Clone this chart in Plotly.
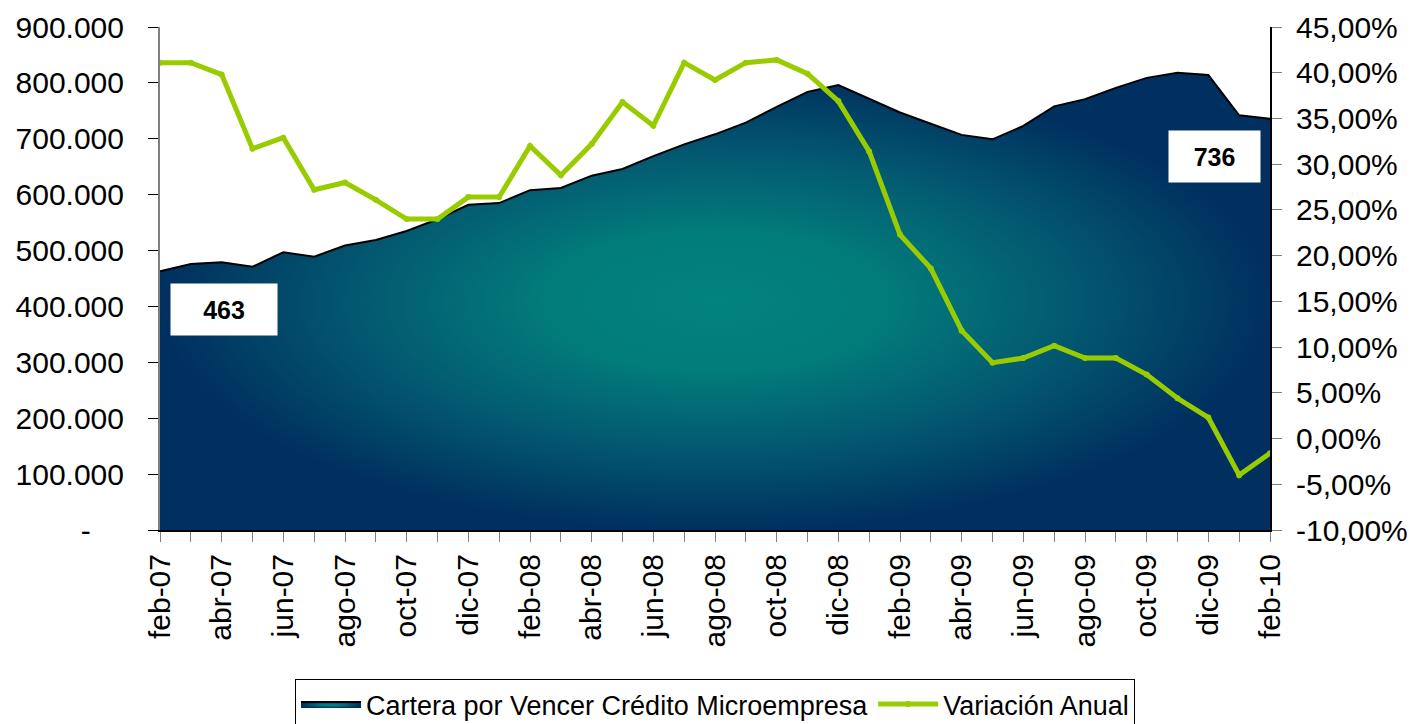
import plotly.graph_objects as go

months = ["feb-07", "mar-07", "abr-07", "may-07", "jun-07", "jul-07", "ago-07", "sep-07",
          "oct-07", "nov-07", "dic-07", "ene-08", "feb-08", "mar-08", "abr-08", "may-08",
          "jun-08", "jul-08", "ago-08", "sep-08", "oct-08", "nov-08", "dic-08", "ene-09",
          "feb-09", "mar-09", "abr-09", "may-09", "jun-09", "jul-09", "ago-09", "sep-09",
          "oct-09", "nov-09", "dic-09", "ene-10", "feb-10"]

cartera = [463000, 476000, 479000, 471000, 497000, 489000, 509000, 519000,
           535000, 556000, 582000, 585000, 608000, 612000, 634000, 646000,
           669000, 690000, 708000, 729000, 757000, 784000, 796000, 771000,
           747000, 727000, 707000, 699000, 723000, 758000, 771000, 791000,
           809000, 818000, 814000, 742000, 736000]

variacion = [0.411, 0.411, 0.398, 0.317, 0.329, 0.272, 0.280, 0.261,
             0.240, 0.240, 0.264, 0.264, 0.320, 0.288, 0.322, 0.368,
             0.342, 0.411, 0.392, 0.411, 0.414, 0.399, 0.369, 0.314,
             0.223, 0.186, 0.118, 0.083, 0.088, 0.1015, 0.088, 0.088,
             0.070, 0.044, 0.023, -0.040, -0.016]

left_ticks = [0, 100000, 200000, 300000, 400000, 500000, 600000, 700000, 800000, 900000]
left_text = ["-\u00a0\u00a0\u00a0\u00a0" if v == 0 else f"{v:,}".replace(",", ".") for v in left_ticks]
right_ticks = [-0.10, -0.05, 0.0, 0.05, 0.10, 0.15, 0.20, 0.25, 0.30, 0.35, 0.40, 0.45]
right_text = [f"{v*100:.2f}%".replace(".", ",") for v in right_ticks]

name_area = "Cartera por Vencer Crédito Microempresa"
name_line = "Variación Anual"

x = list(range(len(months)))
FONT = "Liberation Sans, Arial, sans-serif"
TICK = 30

# page body has an 8px margin: figure drawn 8px smaller so the plot lands where the reference has it
W, H = 1407, 716

fig = go.Figure()
fig.add_trace(go.Scatter(
    x=x, y=cartera, name=name_area, mode="lines",
    line=dict(color="black", width=2),
    fill="tozeroy",
    fillgradient=dict(type="radial",
                      colorscale=[[0, "#02837F"], [0.3, "#027C7B"], [0.65, "#035870"], [1, "#00305F"]]),
    yaxis="y",
))
fig.add_trace(go.Scatter(
    x=x, y=variacion, name=name_line, mode="lines+markers",
    line=dict(color="#99CC00", width=5),
    marker=dict(color="#99CC00", size=6, symbol="circle"),
    yaxis="y2",
))

fig.add_annotation(text=f"<b>{cartera[0]/1000:.0f}</b>", xref="paper", yref="paper",
                   x=(224 - 160) / 1110, y=(530 - 309) / 503, xanchor="center", yanchor="middle",
                   showarrow=False, bgcolor="white", width=106, height=51, borderpad=0,
                   font=dict(family=FONT, size=25, color="black"))
fig.add_annotation(text=f"<b>{cartera[-1]/1000:.0f}</b>", xref="paper", yref="paper",
                   x=(1214 - 160) / 1110, y=(530 - 157) / 503, xanchor="center", yanchor="middle",
                   showarrow=False, bgcolor="white", width=91, height=51, borderpad=0,
                   font=dict(family=FONT, size=25, color="black"))

fig.update_layout(
    width=W, height=H,
    margin=dict(l=152, r=W - 1262, t=19, b=H - 522, autoexpand=False),
    paper_bgcolor="white", plot_bgcolor="white",
    font=dict(family=FONT, size=TICK, color="black"),
    showlegend=True,
    legend=dict(orientation="h", x=0.5, xanchor="center", y=(530 - 679) / 503, yanchor="top",
                bordercolor="black", borderwidth=1, bgcolor="white",
                font=dict(family=FONT, size=27, color="black"), itemwidth=60),
    xaxis=dict(range=[0, 36], tickmode="array", tickvals=x[::2], ticktext=months[::2],
               tickangle=-90, ticks="outside", ticklen=10, tickcolor="#808080",
               showline=True, linecolor="black", linewidth=2, showgrid=False, zeroline=False,
               ticklabelstandoff=0,
               minor=dict(tickmode="linear", tick0=0, dtick=1, ticks="outside", ticklen=10,
                          tickcolor="#808080"),
               tickfont=dict(family=FONT, size=TICK)),
    yaxis=dict(range=[0, 900000], tickmode="array", tickvals=left_ticks, ticktext=left_text,
               ticks="outside", ticklen=10, tickcolor="black", showline=True, linecolor="#808080",
               linewidth=2, showgrid=False, zeroline=False, ticklabelstandoff=18,
               tickfont=dict(family=FONT, size=TICK)),
    yaxis2=dict(range=[-0.10, 0.45], overlaying="y", side="right", tickmode="array",
                tickvals=right_ticks, ticktext=right_text, ticks="outside", ticklen=10,
                tickcolor="#808080", showline=True, linecolor="black", linewidth=2,
                showgrid=False, zeroline=False, ticklabelstandoff=8,
                tickfont=dict(family=FONT, size=TICK)),
)

fig.write_html("out.html")
